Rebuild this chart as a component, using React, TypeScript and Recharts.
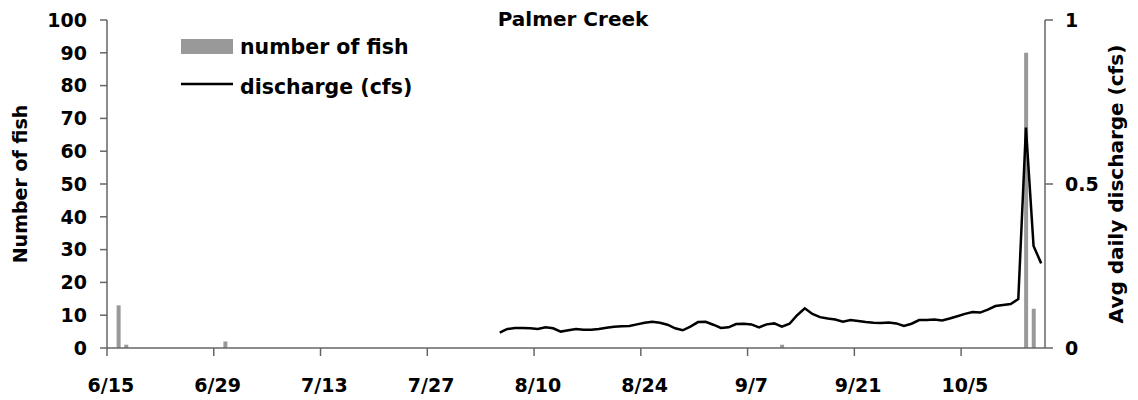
import React from 'react';
import { ComposedChart, Bar, Line, XAxis, YAxis } from 'recharts';

// ---- data ----
const MONTH_LENGTHS: Record<number, number> = { 6: 30, 7: 31, 8: 31, 9: 30, 10: 31 };
function buildDays(month: number, day: number, count: number): string[] {
  const out: string[] = [];
  let m = month;
  let d = day;
  for (let i = 0; i < count; i++) {
    out.push(`${m}/${d}`);
    d++;
    if (d > MONTH_LENGTHS[m]) {
      d = 1;
      m++;
    }
  }
  return out;
}
const days = buildDays(6, 15, 123); // 6/15 .. 10/15

const fishDays = ['6/16', '6/17', '6/30', '9/11', '10/13', '10/14'];
const fishCounts = [13, 1, 2, 1, 90, 12];

const dischargeStart = '8/5';
const discharge = [
  0.047, 0.058, 0.061, 0.061, 0.060, 0.058, 0.063, 0.060, 0.050, 0.054,
  0.058, 0.056, 0.056, 0.058, 0.062, 0.065, 0.066, 0.067, 0.072, 0.077,
  0.080, 0.077, 0.071, 0.060, 0.054, 0.065, 0.079, 0.080, 0.071, 0.061,
  0.063, 0.073, 0.074, 0.072, 0.063, 0.072, 0.075, 0.065, 0.074, 0.100,
  0.121, 0.104, 0.094, 0.090, 0.087, 0.080, 0.085, 0.082, 0.079, 0.077,
  0.076, 0.078, 0.075, 0.067, 0.074, 0.085, 0.085, 0.087, 0.084, 0.090,
  0.097, 0.104, 0.110, 0.108, 0.117, 0.128, 0.131, 0.134, 0.149, 0.672,
  0.311, 0.258,
];

const tickDays = ['6/15', '6/29', '7/13', '7/27', '8/10', '8/24', '9/7', '9/21', '10/5'];
const leftTicks = [0, 10, 20, 30, 40, 50, 60, 70, 80, 90, 100];
const rightTicks = [0, 0.5, 1];

const dStartIdx = days.indexOf(dischargeStart);
const data = days.map((day, i) => {
  const f = fishDays.indexOf(day);
  const di = i - dStartIdx;
  return {
    x: i + 0.5,
    day,
    fish: f >= 0 ? fishCounts[f] : null,
    discharge: di >= 0 && di < discharge.length ? discharge[di] : null,
  };
});

// ---- layout ----
const W = 1130;
const H = 392;
const M = { top: 12, right: 0, bottom: 12, left: 0 };
const LEFT_W = 99;
const RIGHT_W = 93;
const PLOT_W = W - LEFT_W - RIGHT_W;
const HALF_DAY = PLOT_W / days.length / 2;
const FONT = '"DejaVu Sans", sans-serif';
const AXIS = '#666666';
const X_MARGIN = 30;

const tickStyle = { fontSize: 19, fontWeight: 'bold' as const, fill: '#000', fontFamily: FONT };

const XTick = (props: any) => {
  const { x, y, payload } = props;
  const ay = y - X_MARGIN;
  return (
    <g>
      <line x1={x} x2={x} y1={ay} y2={ay + 8} stroke={AXIS} strokeWidth={1.5} />
      <text x={x + HALF_DAY} y={y + 14} textAnchor="middle" style={tickStyle}>
        {days[payload.value]}
      </text>
    </g>
  );
};

export default function App() {
  return (
    <div style={{ position: 'relative', width: W, height: H, fontFamily: FONT }}>
      <ComposedChart width={W} height={H} data={data} margin={M}>
        <XAxis
          dataKey="x"
          type="number"
          domain={[0, days.length]}
          ticks={tickDays.map((d) => days.indexOf(d))}
          interval={0}
          tickLine={false}
          tickSize={0}
          tickMargin={X_MARGIN}
          tick={<XTick />}
          axisLine={{ stroke: AXIS, strokeWidth: 1.5 }}
          height={40}
        />
        <YAxis
          yAxisId="left"
          domain={[0, 100]}
          ticks={leftTicks}
          interval={0}
          width={LEFT_W}
          tickSize={7}
          tickMargin={13}
          axisLine={{ stroke: AXIS, strokeWidth: 1.5 }}
          tickLine={{ stroke: AXIS, strokeWidth: 1.5 }}
          tick={tickStyle}
          label={{
            value: 'Number of fish',
            angle: -90,
            position: 'insideLeft',
            offset: 12,
            style: { textAnchor: 'middle', ...tickStyle },
          }}
        />
        <YAxis
          yAxisId="right"
          orientation="right"
          domain={[0, 1]}
          ticks={rightTicks}
          interval={0}
          width={RIGHT_W}
          tickSize={8}
          tickMargin={12}
          axisLine={{ stroke: AXIS, strokeWidth: 1.5 }}
          tickLine={{ stroke: AXIS, strokeWidth: 1.5 }}
          tick={tickStyle}
          label={{
            value: 'Avg daily discharge (cfs)',
            angle: -90,
            position: 'insideRight',
            offset: 22,
            style: { textAnchor: 'middle', ...tickStyle, fontSize: 20 },
          }}
        />
        <Bar yAxisId="left" dataKey="fish" fill="#999999" barSize={4} isAnimationActive={false} />
        <Line
          yAxisId="right"
          type="linear"
          dataKey="discharge"
          stroke="#000"
          strokeWidth={2.5}
          dot={false}
          activeDot={false}
          connectNulls={false}
          isAnimationActive={false}
        />
      </ComposedChart>
      <svg
        width={W}
        height={H}
        style={{ position: 'absolute', left: 0, top: 0, pointerEvents: 'none' }}
      >
        <text x={565} y={18} textAnchor="middle" style={{ ...tickStyle, fontSize: 20 }}>
          Palmer Creek
        </text>
        <rect x={173} y={31} width={52} height={15} fill="#999999" />
        <text x={232} y={46} style={{ ...tickStyle, fontSize: 20.5 }}>
          number of fish
        </text>
        <line x1={173} x2={225} y1={76} y2={76} stroke="#000" strokeWidth={2.5} />
        <text x={232} y={86} style={{ ...tickStyle, fontSize: 20.5 }}>
          discharge (cfs)
        </text>
      </svg>
    </div>
  );
}
